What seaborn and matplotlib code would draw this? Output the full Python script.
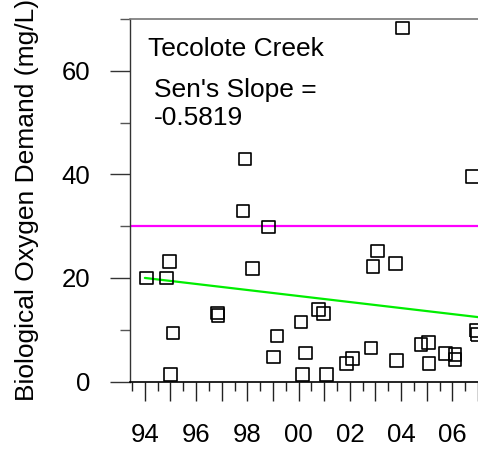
import matplotlib
matplotlib.use("Agg")
import matplotlib.pyplot as plt
import seaborn as sns
import numpy as np
import pandas as pd
from matplotlib.ticker import FixedLocator, FixedFormatter

# Sample dates (decimal years) and biological oxygen demand (mg/L)
years = [1994.07, 1994.84, 1994.97, 1995.10, 1995.01, 1996.83, 1996.85,
         1997.83, 1997.90, 1998.21, 1998.82, 1999.16, 1999.03, 2000.10,
         2000.26, 2000.16, 2000.78, 2000.98, 2001.09, 2001.87, 2002.10,
         2002.82, 2002.91, 2003.08, 2003.79, 2003.82, 2004.05, 2004.77,
         2005.06, 2005.09, 2005.74, 2006.10, 2006.10, 2006.78, 2006.93,
         2006.99]
bod = [20.0, 20.0, 23.2, 9.4, 1.3, 13.2, 12.8,
       32.9, 43.0, 21.8, 29.8, 8.8, 4.7, 11.5,
       5.5, 1.3, 13.9, 13.1, 1.3, 3.5, 4.4,
       6.5, 22.2, 25.2, 22.8, 4.0, 68.3, 7.2,
       7.5, 3.5, 5.4, 5.2, 4.2, 39.6, 9.9,
       9.1]

site_name = "Tecolote Creek"
sens_slope = -0.5819
trend_start = 1994.0
trend_intercept = 20.0
trend_end = 2007.0
objective = 30.0

major_years = list(range(1994, 2008))
year_labels = [f"{y % 100:02d}" if y % 2 == 0 else "" for y in major_years]

sns.set_style("ticks")
plt.rcParams["font.family"] = ["Liberation Sans", "DejaVu Sans"]
plt.rcParams["text.color"] = "black"
plt.rcParams["axes.labelcolor"] = "black"
plt.rcParams["xtick.labelcolor"] = "black"
plt.rcParams["ytick.labelcolor"] = "black"

fig = plt.figure(figsize=(4.78, 4.49), dpi=100)
W, H = 478, 449
ax = fig.add_axes([130 / W, 1 - 381.5 / H, 348 / W, (381.5 - 19) / H])

df = pd.DataFrame({"year": years, "bod": bod})
sns.scatterplot(data=df, x="year", y="bod", ax=ax, marker="s", s=82,
                facecolor="none", edgecolor="black", linewidth=1.2,
                zorder=3)

trend = pd.DataFrame({
    "year": [trend_start, trend_end],
    "bod": [trend_intercept,
            trend_intercept + sens_slope * (trend_end - trend_start)],
})
sns.lineplot(data=trend, x="year", y="bod", ax=ax, color="#00ee00",
             linewidth=1.6, zorder=2)
ax.axhline(objective, color="#ff00ff", linewidth=1.6, zorder=2)

ax.set_xlim(1993.42, 2007.0)
ax.set_ylim(0, 70)

ax.xaxis.set_major_locator(FixedLocator(major_years))
ax.xaxis.set_major_formatter(FixedFormatter(year_labels))
ax.xaxis.set_minor_locator(FixedLocator(np.arange(1993.5, 2007.0, 1.0)))
ax.yaxis.set_major_locator(FixedLocator([0, 20, 40, 60]))
ax.yaxis.set_minor_locator(FixedLocator([10, 30, 50, 70]))

ax.tick_params(axis="x", which="major", length=14, width=1.0,
               color="#222222", labelsize=18.5, pad=16)
ax.tick_params(axis="x", which="minor", length=6.7, width=1.0,
               color="#222222")
ax.tick_params(axis="y", which="major", length=14.4, width=1.0,
               color="#333333", labelsize=18.5, pad=14)
ax.tick_params(axis="y", which="minor", length=7.2, width=1.0,
               color="#555555")

ax.spines["right"].set_visible(False)
ax.spines["top"].set_color("#777777")
ax.spines["top"].set_linewidth(1.2)
ax.spines["left"].set_color("#333333")
ax.spines["left"].set_linewidth(1.0)
ax.spines["bottom"].set_color("black")
ax.spines["bottom"].set_linewidth(1.2)

ax.set_xlabel("")
ax.set_ylabel("Biological Oxygen Demand (mg/L)", fontsize=19)
ax.yaxis.set_label_coords(-0.2615, 0.5)

fig.text(148 / W, 1 - 55.7 / H, site_name, fontsize=19,
         ha="left", va="baseline")
fig.text(154 / W, 1 - 96.7 / H, "Sen's Slope =", fontsize=19,
         ha="left", va="baseline")
fig.text(154 / W, 1 - 125 / H, f"{sens_slope:.4f}", fontsize=19,
         ha="left", va="baseline")

fig.savefig("out.png", dpi=100)
